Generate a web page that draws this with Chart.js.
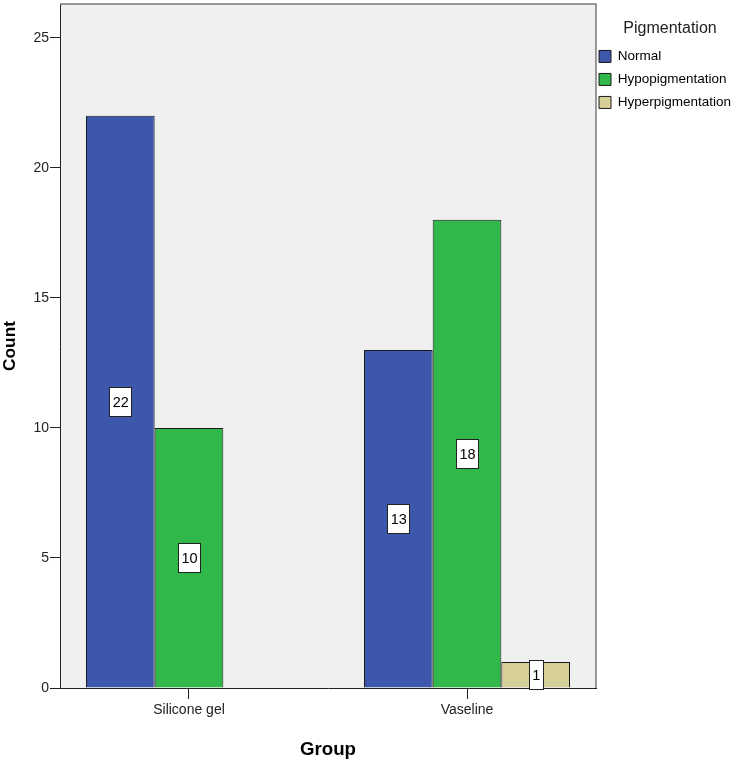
<!DOCTYPE html>
<html>
<head>
<meta charset="utf-8">
<script src="https://cdn.jsdelivr.net/npm/chart.js@4.4.1/dist/chart.umd.min.js"></script>
<style>
  html, body { margin: 0; padding: 0; background: #fff; }
</style>
</head>
<body>
<canvas id="chart" width="735" height="768"></canvas>
<script>
// データ
const groups = ['Silicone gel', 'Vaseline'];
const pigmentTypes = ['Normal', 'Hypopigmentation', 'Hyperpigmentation'];
const normalCounts = [22, 13];
const hypoCounts = [10, 18];
const hyperCounts = [null, 1]; // Silicone gel 側は該当なし
const countTicks = [0, 5, 10, 15, 20, 25];

const barColors = ['#3d58ab', '#30b84a', '#d6cf97'];
const FONT = '"Liberation Sans", Arial, sans-serif';

// プロット領域の背景と上・右の枠線
const plotFrame = {
    id: 'plotFrame',
    beforeDraw(chart) {
        const { ctx, chartArea: a } = chart;
        ctx.save();
        ctx.fillStyle = '#f0f0f0';
        ctx.fillRect(a.left, a.top, a.right - a.left, a.bottom - a.top);
        ctx.restore();
    },
    afterDraw(chart) {
        const { ctx, chartArea: a } = chart;
        ctx.save();
        ctx.strokeStyle = '#7a7a7a';
        ctx.lineWidth = 1.5;
        ctx.beginPath();
        ctx.moveTo(a.left, a.top);
        ctx.lineTo(a.right, a.top);
        ctx.lineTo(a.right, a.bottom);
        ctx.stroke();
        ctx.restore();
    }
};

// 凡例を少し左へ寄せ、タイトルを右寄りに（右端はクリップされないようそのまま）
const legendShift = {
    id: 'legendShift',
    afterLayout(chart) {
        chart.legend.left -= 6.5;
        chart.legend.width += 22;
    }
};

// 棒の中央に白い枠付きラベル
const barLabels = {
    id: 'barLabels',
    afterDatasetsDraw(chart) {
        const { ctx } = chart;
        ctx.save();
        ctx.font = '14.5px ' + FONT;
        ctx.textAlign = 'center';
        ctx.textBaseline = 'middle';
        chart.data.datasets.forEach((ds, i) => {
            const meta = chart.getDatasetMeta(i);
            meta.data.forEach((bar, j) => {
                const v = ds.data[j];
                if (v === null || v === undefined) return;
                const { x, y, base } = bar.getProps(['x', 'y', 'base'], true);
                const cy = (y + base) / 2;
                const text = String(v);
                const w = Math.round(ctx.measureText(text).width + 6);
                const h = 29;
                const bx = Math.round(x - w / 2);
                const by = Math.round(cy - h / 2);
                ctx.fillStyle = '#fff';
                ctx.fillRect(bx, by, w, h);
                ctx.strokeStyle = '#222';
                ctx.lineWidth = 1;
                ctx.strokeRect(bx + 0.5, by + 0.5, w, h);
                ctx.fillStyle = '#000';
                ctx.fillText(text, x + 0.5, cy + 1.5);
            });
        });
        ctx.restore();
    }
};

const seriesValues = [normalCounts, hypoCounts, hyperCounts];

new Chart(document.getElementById('chart'), {
    type: 'bar',
    data: {
        labels: groups.map((g, i) => i),
        datasets: pigmentTypes.map((name, k) => ({
            label: name,
            data: seriesValues[k],
            backgroundColor: barColors[k],
            borderColor: '#1a1a1a',
            borderWidth: 1,
            categoryPercentage: 0.741,
            barPercentage: 1
        }))
    },
    options: {
        responsive: false,
        animation: false,
        layout: { padding: { top: 4, left: 0, right: 0, bottom: 0 } },
        plugins: {
            legend: {
                position: 'right',
                align: 'start',
                maxWidth: 139,
                title: {
                    display: true,
                    text: 'Pigmentation',
                    color: '#222',
                    font: { size: 16, family: FONT },
                    padding: { top: 17, bottom: 0 }
                },
                labels: {
                    boxWidth: 12,
                    boxHeight: 12,
                    padding: 9.5,
                    color: '#000',
                    font: { size: 13.5, family: FONT }
                }
            },
            tooltip: { enabled: false }
        },
        scales: {
            x: {
                type: 'linear',
                offset: false,
                min: -0.464,
                max: 1.464,
                afterFit(scale) {
                    scale.height = 80;
                    scale.paddingLeft = 0;
                    scale.paddingRight = 0;
                },
                afterBuildTicks(scale) { scale.ticks = groups.map((g, i) => ({ value: i })); },
                ticks: {
                    callback: (v, i) => groups[i],
                    color: '#222',
                    padding: 3,
                    font: { size: 14, family: FONT }
                },
                grid: { offset: false, drawOnChartArea: false, tickLength: 11, color: '#222' },
                border: { color: '#222', width: 1 },
                title: {
                    display: true,
                    text: 'Group',
                    color: '#000',
                    font: { size: 18.7, weight: 'bold', family: FONT },
                    padding: { top: 0, bottom: 7 }
                }
            },
            y: {
                min: 0,
                max: 26.3,
                afterFit(scale) {
                    scale.width = 60;
                    scale.paddingTop = 0;
                    scale.paddingBottom = 0;
                },
                afterBuildTicks(scale) { scale.ticks = countTicks.map(v => ({ value: v })); },
                ticks: {
                    color: '#222',
                    padding: 1,
                    font: { size: 14, family: FONT }
                },
                grid: { drawOnChartArea: false, tickLength: 10, color: '#222' },
                border: { color: '#222', width: 1 },
                title: {
                    display: true,
                    text: 'Count',
                    color: '#000',
                    font: { size: 17.3, weight: 'bold', family: FONT, lineHeight: 1 },
                    padding: { top: 2, bottom: 0 }
                }
            }
        }
    },
    plugins: [plotFrame, legendShift, barLabels]
});
</script>
</body>
</html>
